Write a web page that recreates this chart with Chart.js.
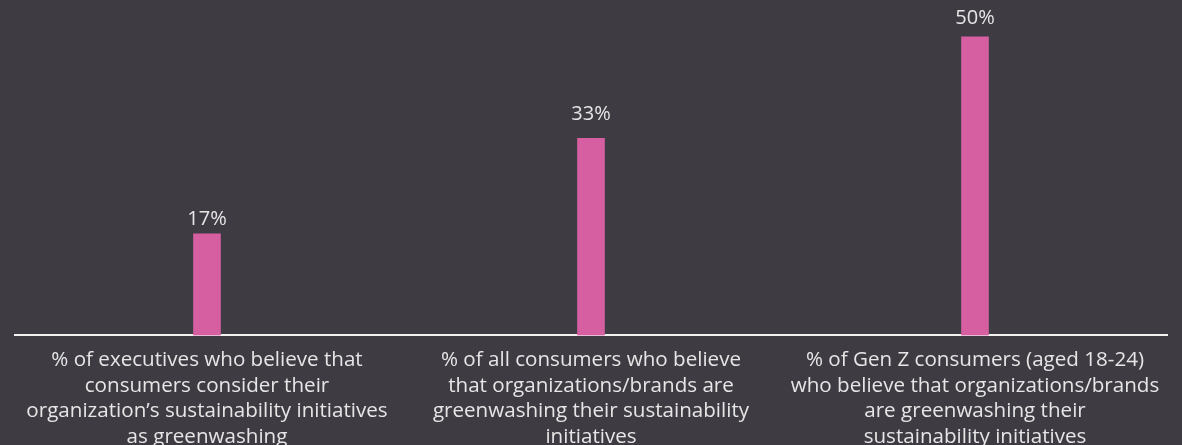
<!DOCTYPE html>
<html>
<head>
<meta charset="utf-8">
<script src="https://cdn.jsdelivr.net/npm/chart.js@4.4.1/dist/chart.umd.min.js"></script>
<style>
  html, body { margin: 0; padding: 0; background: #3e3b43; }
  #wrap { width: 1182px; height: 445px; position: relative; }
</style>
</head>
<body>
<div id="wrap"><canvas id="greenChart"></canvas></div>
<script>
// Данные
const categories = [
    ['% of executives who believe that', 'consumers consider their', 'organization\u2019s sustainability initiatives', 'as greenwashing'],
    ['% of all consumers who believe', 'that organizations/brands are', 'greenwashing their sustainability', 'initiatives'],
    ['% of Gen Z consumers (aged 18-24)', 'who believe that organizations/brands', 'are greenwashing their', 'sustainability initiatives']
];
const values = [17, 33, 50];

const textColor = '#e6e6e6';
const fontFamily = '"Open Sans", Lato, sans-serif';
// отступ подписи от верха столбца
const labelGap = [9, 18, 13];

// Подписи над столбцами
const valueLabels = {
    id: 'valueLabels',
    afterDatasetsDraw(chart) {
        const ctx = chart.ctx;
        const meta = chart.getDatasetMeta(0);
        ctx.save();
        ctx.fillStyle = textColor;
        ctx.font = '20px ' + fontFamily;
        ctx.textAlign = 'center';
        ctx.textBaseline = 'alphabetic';
        meta.data.forEach(function(bar, i) {
            ctx.fillText(values[i] + '%', bar.x, bar.y - labelGap[i]);
        });
        ctx.restore();
    }
};

new Chart(document.getElementById('greenChart').getContext('2d'), {
    type: 'bar',
    data: {
        labels: categories,
        datasets: [{
            data: values,
            backgroundColor: '#d65fa2',
            borderWidth: 0,
            barThickness: 27
        }]
    },
    options: {
        responsive: true,
        maintainAspectRatio: false,
        animation: false,
        layout: { padding: { left: 15, right: 15, top: 1, bottom: -9 } },
        plugins: {
            legend: { display: false },
            tooltip: { enabled: false }
        },
        scales: {
            x: {
                grid: { display: false },
                border: { display: true, color: '#f2f2f2', width: 2 },
                ticks: {
                    color: textColor,
                    padding: 4,
                    maxRotation: 0,
                    autoSkip: false,
                    font: { family: fontFamily, size: 20.6, lineHeight: 1.245 }
                }
            },
            y: {
                display: false,
                min: 0,
                max: 56
            }
        }
    },
    plugins: [valueLabels]
});
</script>
</body>
</html>
